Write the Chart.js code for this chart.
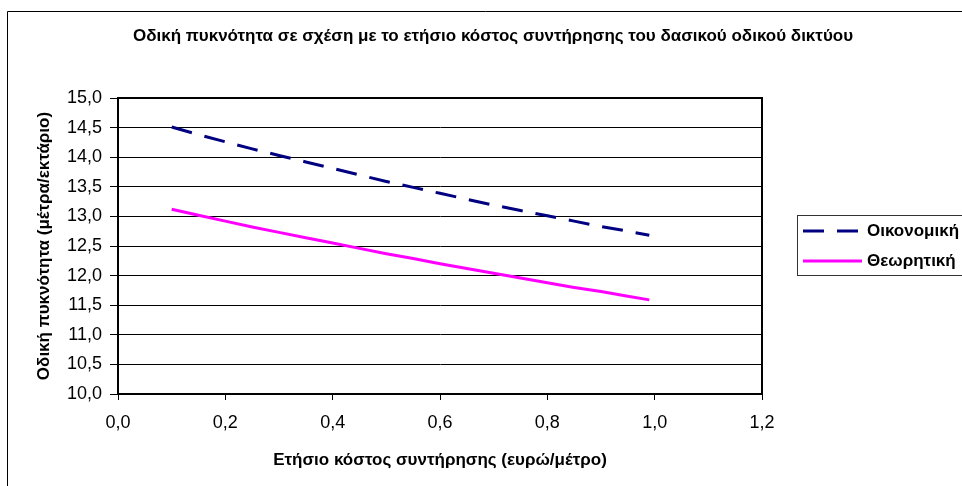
<!DOCTYPE html>
<html>
<head>
<meta charset="utf-8">
<script src="https://cdn.jsdelivr.net/npm/chart.js@4.4.1/dist/chart.umd.min.js"></script>
<style>
  html, body { margin: 0; padding: 0; background: #fff; }
  #wrap { width: 962px; height: 486px; }
</style>
</head>
<body>
<div id="wrap"><canvas id="densityChart" width="962" height="486"></canvas></div>
<script>
// τίτλοι
const chartTitle = "Οδική πυκνότητα σε σχέση με το ετήσιο κόστος συντήρησης του δασικού οδικού δικτύου";
const xTitle = "Ετήσιο κόστος συντήρησης (ευρώ/μέτρο)";
const yTitle = "Οδική πυκνότητα (μέτρα/εκτάριο)";
const seriesNames = ["Οικονομική", "Θεωρητική"];

// κόστος συντήρησης (ευρώ/μέτρο)
const costX = [0.10, 0.15, 0.20, 0.25, 0.30, 0.35, 0.40, 0.45, 0.50, 0.55,
               0.60, 0.65, 0.70, 0.75, 0.80, 0.85, 0.90, 0.95, 0.99];
// οικονομική πυκνότητα (μέτρα/εκτάριο)
const economic = [14.51, 14.38, 14.26, 14.14, 14.03, 13.92, 13.81, 13.70, 13.59, 13.49,
                  13.39, 13.29, 13.19, 13.10, 13.01, 12.92, 12.83, 12.75, 12.68];
// θεωρητική πυκνότητα (μέτρα/εκτάριο)
const theoretical = [13.12, 13.02, 12.92, 12.82, 12.73, 12.64, 12.55, 12.46, 12.37, 12.29,
                     12.20, 12.12, 12.04, 11.96, 11.88, 11.80, 11.73, 11.65, 11.59];

// άξονες
const xTicks = { min: 0, max: 1.2, step: 0.2 };
const yTicks = { min: 10, max: 15, step: 0.5 };

const FONT = "'Liberation Sans', Arial, sans-serif";
const comma = v => Number(v).toFixed(1).replace(".", ",");

function toPoints(values) {
    return costX.map((x, i) => ({ x: x, y: values[i] }));
}

// πλαίσιο γραφήματος, τίτλος, περίγραμμα περιοχής σχεδίασης και υπόμνημα
const excelFrame = {
    id: "excelFrame",
    beforeDraw(chart) {
        const ctx = chart.ctx;
        ctx.save();
        ctx.fillStyle = "#fff";
        ctx.fillRect(0, 0, chart.width, chart.height);
        ctx.strokeStyle = "#000";
        ctx.lineWidth = 1;
        ctx.beginPath();
        ctx.moveTo(7.5, chart.height + 2);
        ctx.lineTo(7.5, 11.5);
        ctx.lineTo(chart.width + 2, 11.5);
        ctx.stroke();

        ctx.fillStyle = "#000";
        ctx.font = "bold 17px " + FONT;
        ctx.textAlign = "center";
        ctx.textBaseline = "middle";
        ctx.fillText(chartTitle, 493, 36);
        ctx.restore();
    },
    afterDatasetsDraw(chart) {
        const ctx = chart.ctx;
        const a = chart.chartArea;
        ctx.save();
        ctx.strokeStyle = "#000";
        ctx.lineWidth = 2;
        ctx.beginPath();
        ctx.moveTo(a.left, a.top);
        ctx.lineTo(a.right, a.top);
        ctx.lineTo(a.right, a.bottom);
        ctx.stroke();
        ctx.restore();
    },
    afterDraw(chart) {
        const ctx = chart.ctx;
        const bx = 797, by = 215, bh = 60;
        ctx.save();
        ctx.strokeStyle = "#333";
        ctx.lineWidth = 1;
        ctx.strokeRect(bx + 0.5, by + 0.5, 300, bh);
        chart.data.datasets.forEach((ds, i) => {
            const y = by + 16 + i * 30;
            ctx.strokeStyle = ds.borderColor;
            ctx.lineWidth = ds.borderWidth;
            ctx.setLineDash(ds.borderDash || []);
            ctx.beginPath();
            ctx.moveTo(bx + 6, y);
            ctx.lineTo(bx + 65, y);
            ctx.stroke();
            ctx.setLineDash([]);
            ctx.fillStyle = "#000";
            ctx.font = "bold 17px " + FONT;
            ctx.textAlign = "left";
            ctx.textBaseline = "middle";
            ctx.fillText(ds.label, bx + 70, y);
        });
        ctx.restore();
    }
};

new Chart(document.getElementById("densityChart"), {
    type: "scatter",
    data: {
        datasets: [{
            label: seriesNames[0],
            data: toPoints(economic),
            showLine: true,
            borderColor: "#000080",
            borderWidth: 3,
            borderDash: [21, 13],
            pointRadius: 0,
            tension: 0
        }, {
            label: seriesNames[1],
            data: toPoints(theoretical),
            showLine: true,
            borderColor: "#ff00ff",
            borderWidth: 3,
            pointRadius: 0,
            tension: 0
        }]
    },
    options: {
        responsive: false,
        animation: false,
        devicePixelRatio: 1,
        layout: { padding: { left: 0, top: 98, right: 200, bottom: 0 } },
        plugins: {
            legend: { display: false },
            title: { display: false },
            tooltip: { enabled: false }
        },
        scales: {
            x: {
                type: "linear",
                min: xTicks.min,
                max: xTicks.max,
                afterFit(scale) { scale.height = 92; },
                ticks: {
                    stepSize: xTicks.step,
                    callback: comma,
                    color: "#000",
                    font: { family: FONT, size: 18 },
                    padding: 12,
                    maxRotation: 0
                },
                grid: { drawOnChartArea: false, drawTicks: true, tickLength: 6, color: "#000" },
                border: { color: "#000", width: 2 },
                title: {
                    display: true,
                    text: xTitle,
                    color: "#000",
                    font: { family: FONT, size: 17, weight: "bold" },
                    padding: { top: 0, bottom: 15 }
                }
            },
            y: {
                min: yTicks.min,
                max: yTicks.max,
                afterFit(scale) { scale.width = 118; },
                ticks: {
                    stepSize: yTicks.step,
                    callback: comma,
                    color: "#000",
                    font: { family: FONT, size: 18 },
                    padding: 8
                },
                grid: { color: "#000", tickLength: 8 },
                border: { color: "#000", width: 2 },
                title: {
                    display: true,
                    text: yTitle,
                    color: "#000",
                    font: { family: FONT, size: 17, weight: "bold" },
                    padding: { top: 34, bottom: 0 }
                }
            }
        }
    },
    plugins: [excelFrame]
});
</script>
</body>
</html>
